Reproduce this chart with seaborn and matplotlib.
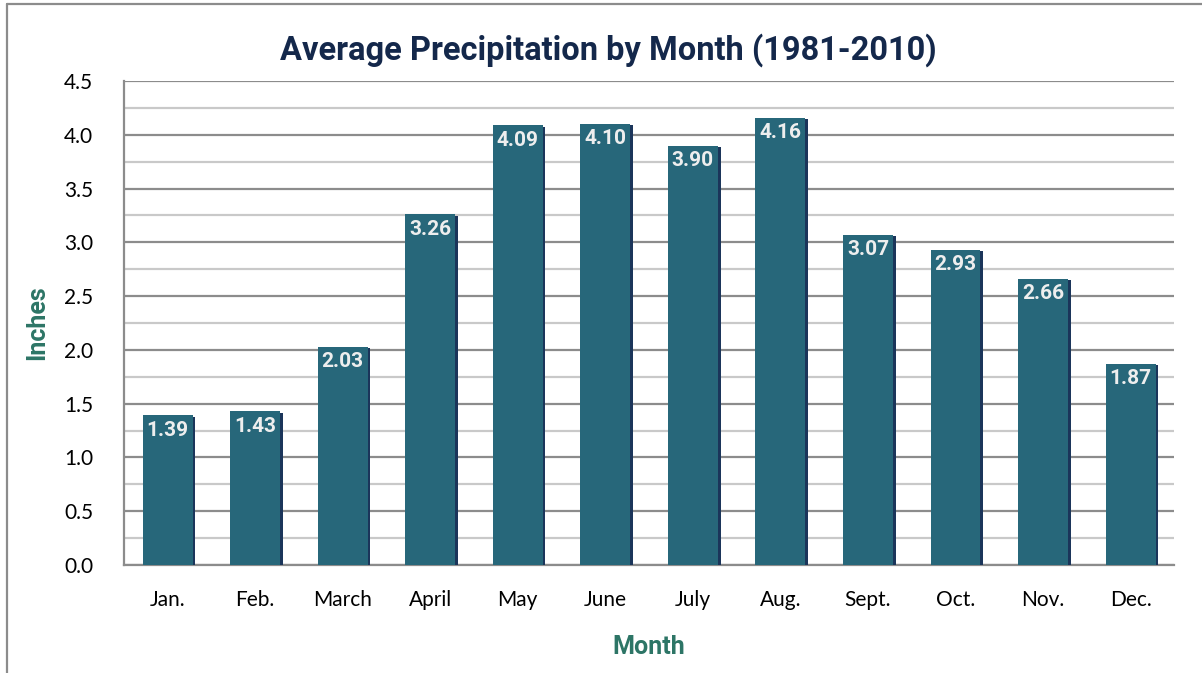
import matplotlib
matplotlib.use("Agg")
import matplotlib.pyplot as plt
import matplotlib.patheffects as pe
from matplotlib.lines import Line2D
import pandas as pd
import seaborn as sns

months = ["Jan.", "Feb.", "March", "April", "May", "June", "July", "Aug.",
          "Sept.", "Oct.", "Nov.", "Dec."]
inches = [1.39, 1.43, 2.03, 3.26, 4.09, 4.10, 3.90, 4.16, 3.07, 2.93, 2.66, 1.87]

df = pd.DataFrame({"Month": months, "Inches": inches})

sns.set_style("white")
plt.rcParams["font.family"] = ["Lato", "DejaVu Sans"]

bold_font = ["Roboto", "DejaVu Sans"]
bar_color = "#27677a"
label_green = "#2d7566"
title_navy = "#14284b"

fig = plt.figure(figsize=(12.02, 6.73), dpi=100)
ax = fig.add_axes([0.103, 0.1605, 0.874, 0.7191])

sns.barplot(data=df, x="Month", y="Inches", color=bar_color, width=0.57,
            saturation=1, linewidth=0, ax=ax, zorder=3)

for p in ax.patches:
    p.set_path_effects([pe.SimplePatchShadow(offset=(2, -1), shadow_rgbFace="#1b355a", alpha=1.0),
                        pe.Normal()])

for i, v in enumerate(inches):
    ax.text(i, v - 0.05, f"{v:.2f}", ha="center", va="top", color="#eeeeee",
            fontsize=15, fontweight="bold", family=bold_font, zorder=5)

ax.set_ylim(0, 4.5)
ax.set_xlim(-0.5, 11.5)
ax.set_yticks([i * 0.5 for i in range(10)])
ax.set_yticklabels([f"{i * 0.5:.1f}" for i in range(10)])
ax.set_yticks([0.25 + i * 0.5 for i in range(9)], minor=True)
ax.grid(axis="y", which="major", color="#8c8c8c", linewidth=1.6, zorder=0)
ax.grid(axis="y", which="minor", color="#c9c9c9", linewidth=1.6, zorder=0)
ax.grid(axis="x", visible=False)
ax.set_axisbelow(True)

for s in ["top", "right"]:
    ax.spines[s].set_visible(False)
ax.spines["left"].set_color("#8c8c8c")
ax.spines["bottom"].set_color("#8c8c8c")
ax.spines["left"].set_linewidth(1.6)
ax.spines["bottom"].set_linewidth(1.6)

ax.tick_params(axis="both", which="both", length=0, labelsize=15, colors="black")
ax.tick_params(axis="y", pad=22)
ax.tick_params(axis="x", pad=18)

ax.set_xlabel("Month", color=label_green, fontsize=18, fontweight="bold",
              family=bold_font, labelpad=18)
ax.set_ylabel("Inches", color=label_green, fontsize=18, fontweight="bold",
              family=bold_font, labelpad=11)

fig.text(0.506, 0.926, "Average Precipitation by Month (1981-2010)", ha="center",
         va="center", color=title_navy, fontsize=23.5, fontweight="bold",
         family=bold_font)

# outer frame (left and top edges)
fig.add_artist(Line2D([0.006, 0.006], [0, 0.994], transform=fig.transFigure,
                      color="#8c8c8c", linewidth=1.6))
fig.add_artist(Line2D([0.006, 1.0], [0.994, 0.994], transform=fig.transFigure,
                      color="#8c8c8c", linewidth=1.6))

fig.savefig("out.png", dpi=100)
